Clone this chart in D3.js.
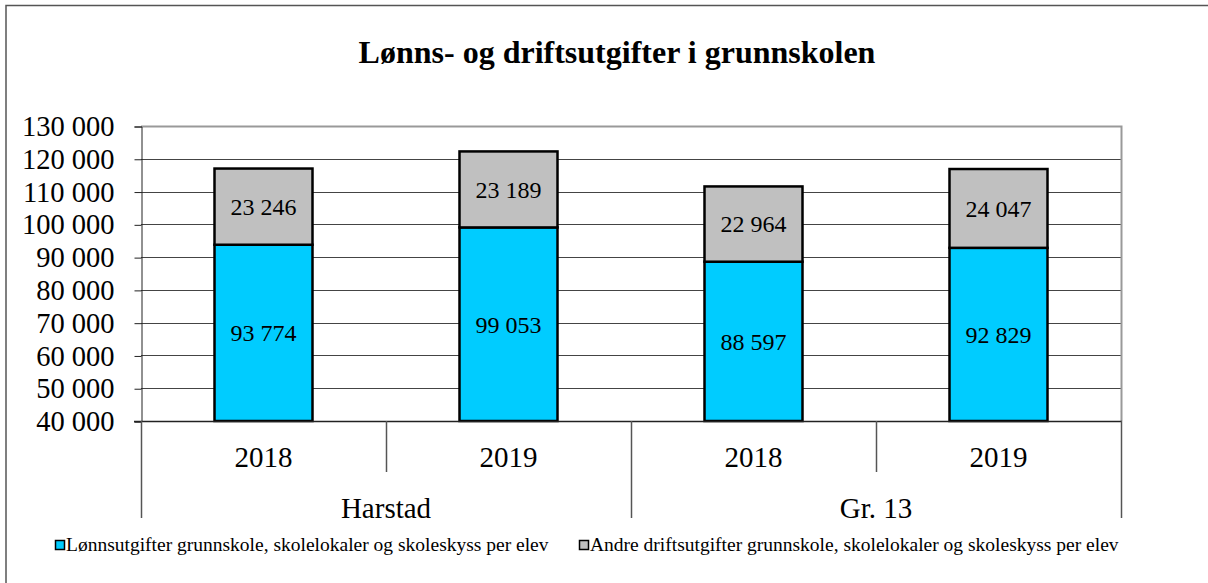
<!DOCTYPE html>
<html>
<head>
<meta charset="utf-8">
<script src="https://cdn.jsdelivr.net/npm/d3@7"></script>
<style>
  body { margin: 0; background: #fff; }
  svg { display: block; font-family: "Liberation Serif", "Times New Roman", serif; }
</style>
</head>
<body>
<svg id="chart" width="1208" height="583"></svg>
<script>
// DATA
var years = ["2018", "2019", "2018", "2019"];
var groups = ["Harstad", "Harstad", "Gr. 13", "Gr. 13"];
var groupNames = ["Harstad", "Gr. 13"];
var lonn = [93774, 99053, 88597, 92829];
var andre = [23246, 23189, 22964, 24047];
var yTicks = [40000, 50000, 60000, 70000, 80000, 90000, 100000, 110000, 120000, 130000];
var seriesNames = [
  "Lønnsutgifter grunnskole, skolelokaler og skoleskyss per elev",
  "Andre driftsutgifter grunnskole, skolelokaler og skoleskyss per elev"
];
var seriesColors = ["#00CCFF", "#C0C0C0"];

var svg = d3.select("#chart");
// plot area edges
var plotLeft = 141, plotRight = 1121, plotTop = 126, plotBottom = 421;

var fmt = d3.formatLocale({ decimal: ",", thousands: " ", grouping: [3], currency: ["", ""] }).format(",d");

// outer chart border
svg.append("path")
  .attr("d", "M6,590 L6,5.5 L1215,5.5")
  .attr("fill", "none").attr("stroke", "#555").attr("stroke-width", 1.5);

// title
svg.append("text")
  .attr("x", 617).attr("y", 63)
  .attr("text-anchor", "middle")
  .attr("font-weight", "bold").attr("font-size", 32)
  .text("Lønns- og driftsutgifter i grunnskolen");

var idx = d3.range(years.length);
var x = d3.scaleBand().domain(idx).range([plotLeft, plotRight]).paddingInner(0.6).paddingOuter(0.3);
var xc = d3.scaleBand().domain(idx).range([plotLeft, plotRight]);
var y = d3.scaleLinear().domain([40000, 130000]).range([plotBottom, plotTop]).clamp(true);

// gridlines
svg.append("g").selectAll("line").data(yTicks.slice(1)).join("line")
  .attr("x1", plotLeft).attr("x2", plotRight)
  .attr("y1", function (d) { return Math.round(y(d)) + 0.5; })
  .attr("y2", function (d) { return Math.round(y(d)) + 0.5; })
  .attr("stroke", "#444").attr("stroke-width", 1);

// plot frame top/right (grey)
svg.append("path")
  .attr("d", "M" + plotLeft + "," + (plotTop + 0.5) + " L" + (plotRight + 0.5) + "," + (plotTop + 0.5) + " L" + (plotRight + 0.5) + "," + plotBottom)
  .attr("fill", "none").attr("stroke", "#999").attr("stroke-width", 2);

// y axis
var yAxis = d3.axisLeft(y).tickValues(yTicks).tickSize(7).tickPadding(20).tickFormat(fmt);
var gy = svg.append("g").attr("transform", "translate(" + (plotLeft + 0.5) + ",0.5)").call(yAxis)
  .attr("font-family", null).attr("font-size", null);
gy.select(".domain").attr("stroke", "#222");
gy.selectAll(".tick line").attr("stroke", "#222");
gy.selectAll(".tick text")
  .attr("font-size", 28.5).attr("fill", "#000");

// stacked bars
var table = idx.map(function (i) { return { i: i, lonn: lonn[i], andre: andre[i] }; });
var stack = d3.stack().keys(["lonn", "andre"])(table);

var layers = svg.append("g").selectAll("g").data(stack).join("g")
  .attr("fill", function (d, k) { return seriesColors[k]; });

layers.selectAll("rect").data(function (d) { return d; }).join("rect")
  .attr("x", function (d) { return x(d.data.i); })
  .attr("width", x.bandwidth())
  .attr("y", function (d) { return y(d[1]); })
  .attr("height", function (d) { return y(d[0]) - y(d[1]); })
  .attr("stroke", "#000").attr("stroke-width", 2.5);

// value labels
layers.selectAll("text").data(function (d) { return d; }).join("text")
  .attr("x", function (d) { return x(d.data.i) + x.bandwidth() / 2; })
  .attr("y", function (d) { return (y(d[0]) + y(d[1])) / 2; })
  .attr("dy", "0.35em")
  .attr("text-anchor", "middle")
  .attr("font-size", 24).attr("fill", "#000")
  .text(function (d) { return fmt(d[1] - d[0]); });

// x axis line
svg.append("line")
  .attr("x1", plotLeft - 7).attr("x2", plotRight + 1)
  .attr("y1", plotBottom + 0.5).attr("y2", plotBottom + 0.5)
  .attr("stroke", "#222").attr("stroke-width", 1.5);

// category separators: short between years, long between groups
var seps = d3.range(years.length + 1).map(function (k) {
  var xp = k < years.length ? xc(k) : plotRight;
  var long = k === 0 || k === years.length || groups[k] !== groups[k - 1];
  return { x: xp, long: long };
});
svg.append("g").selectAll("line").data(seps).join("line")
  .attr("x1", function (d) { return Math.round(d.x) + 0.5; })
  .attr("x2", function (d) { return Math.round(d.x) + 0.5; })
  .attr("y1", plotBottom)
  .attr("y2", function (d) { return d.long ? 518 : 472; })
  .attr("stroke", "#555").attr("stroke-width", 1.5);

// year labels
svg.append("g").selectAll("text").data(idx).join("text")
  .attr("x", function (i) { return xc(i) + xc.bandwidth() / 2; })
  .attr("y", 467)
  .attr("text-anchor", "middle").attr("font-size", 29)
  .text(function (i) { return years[i]; });

// group labels
svg.append("g").selectAll("text").data(groupNames).join("text")
  .attr("x", function (g) {
    var members = idx.filter(function (i) { return groups[i] === g; });
    return (xc(members[0]) + xc(members[members.length - 1]) + xc.bandwidth()) / 2;
  })
  .attr("y", 518)
  .attr("text-anchor", "middle").attr("font-size", 29)
  .text(function (g) { return g; });

// legend
var legendX = [55, 579];
var legend = svg.append("g").selectAll("g").data(seriesNames).join("g")
  .attr("transform", function (d, k) { return "translate(" + legendX[k] + ",540)"; });
legend.append("rect")
  .attr("x", 0.5).attr("y", 0.5).attr("width", 9).attr("height", 9)
  .attr("fill", function (d, k) { return seriesColors[k]; })
  .attr("stroke", "#000").attr("stroke-width", 1.5);
legend.append("text")
  .attr("x", 11).attr("y", 11)
  .attr("font-size", 19.5)
  .text(function (d) { return d; });
</script>
</body>
</html>
